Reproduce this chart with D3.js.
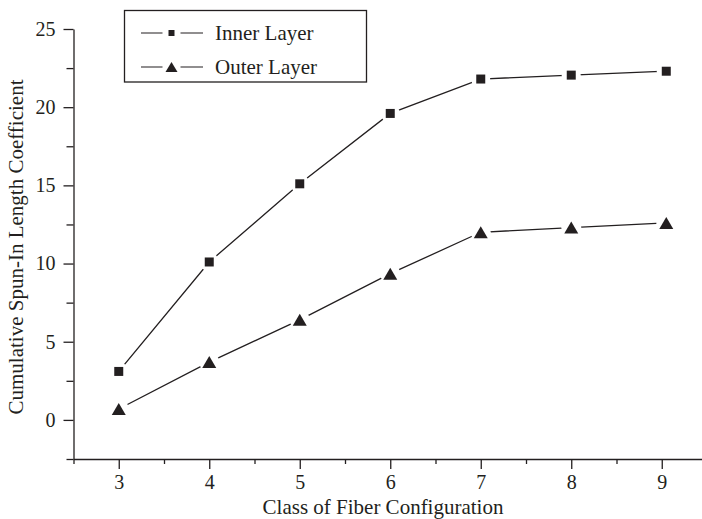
<!DOCTYPE html>
<html>
<head>
<meta charset="utf-8">
<script src="https://cdn.jsdelivr.net/npm/d3@7"></script>
<style>
  html, body { margin: 0; padding: 0; background: #fff; }
  svg { display: block; }
  text { font-family: "Liberation Serif", "Times New Roman", serif; fill: #231f20; }
</style>
</head>
<body>
<svg id="chart" width="702" height="519"></svg>
<script>
// ---- data ----
const classes = [3, 4, 5, 6, 7, 8, 9.05];
const innerLayer = [3.1, 10.1, 15.1, 19.6, 21.8, 22.05, 22.3];
const outerLayer = [0.7, 3.7, 6.4, 9.35, 12.0, 12.3, 12.6];
const seriesNames = ["Inner Layer", "Outer Layer"];
const xMajorTicks = [3, 4, 5, 6, 7, 8, 9];
const xMinorTicks = [2.5, 3.5, 4.5, 5.5, 6.5, 7.5, 8.5, 9.5];
const yMajorTicks = [0, 5, 10, 15, 20, 25];
const yMinorTicks = [-2.5, 2.5, 7.5, 12.5, 17.5, 22.5];
const xTitle = "Class of Fiber Configuration";
const yTitle = "Cumulative Spun-In Length Coefficient";

const ink = "#231f20";
const svg = d3.select("#chart");

const x = d3.scaleLinear().domain([2.5, 9.5]).range([73.5, 707]);
const y = d3.scaleLinear().domain([-2.5, 25]).range([459, 29]);

// ---- axes ----
const xAxisG = svg.append("g").attr("transform", `translate(0,${y(-2.5)})`);
xAxisG.call(d3.axisBottom(x).tickValues(xMajorTicks).tickSize(10).tickSizeOuter(0).tickPadding(6).tickFormat(d3.format("d")));
const xMinorG = svg.append("g").attr("transform", `translate(0,${y(-2.5)})`);
xMinorG.call(d3.axisBottom(x).tickValues(xMinorTicks).tickSize(5).tickSizeOuter(0).tickFormat(""));
xMinorG.select(".domain").remove();

const yAxisG = svg.append("g").attr("transform", `translate(${x(2.5)},0)`);
yAxisG.call(d3.axisLeft(y).tickValues(yMajorTicks).tickSize(10).tickSizeOuter(0).tickPadding(8).tickFormat(d3.format("d")));
const yMinorG = svg.append("g").attr("transform", `translate(${x(2.5)},0)`);
yMinorG.call(d3.axisLeft(y).tickValues(yMinorTicks).tickSize(7).tickSizeOuter(0).tickFormat(""));
yMinorG.select(".domain").remove();

svg.selectAll(".domain, .tick line").attr("stroke", ink).attr("stroke-width", 1.3);
svg.selectAll(".tick text").attr("font-family", "Liberation Serif").attr("font-size", 20).attr("fill", ink);

// ---- axis titles ----
svg.append("text")
  .attr("x", 383).attr("y", 514)
  .attr("text-anchor", "middle")
  .attr("font-size", 21)
  .text(xTitle);
svg.append("text")
  .attr("transform", "translate(23,247) rotate(-90)")
  .attr("text-anchor", "middle")
  .attr("font-size", 21)
  .text(yTitle);

// ---- marker shapes ----
const triangleType = (w, h) => ({
  draw(ctx) {
    ctx.moveTo(0, -h / 2);
    ctx.lineTo(w / 2, h / 2);
    ctx.lineTo(-w / 2, h / 2);
    ctx.closePath();
  }
});
const squareType = (s) => ({
  draw(ctx) { ctx.rect(-s / 2, -s / 2, s, s); }
});

const series = [
  { name: seriesNames[0], values: innerLayer, shape: squareType(9), halo: 9.5,
    legendShape: squareType(6) },
  { name: seriesNames[1], values: outerLayer, shape: triangleType(14, 12), halo: 10,
    legendShape: triangleType(12, 10) }
];

const line = d3.line().x(d => x(d[0])).y(d => y(d[1]));

series.forEach(s => {
  const pts = classes.map((c, i) => [c, s.values[i]]);
  const g = svg.append("g");
  g.append("path").datum(pts)
    .attr("d", line).attr("fill", "none")
    .attr("stroke", ink).attr("stroke-width", 1.3);
  // white halos to separate markers from the lines
  g.selectAll("circle.halo").data(pts).join("circle")
    .attr("class", "halo")
    .attr("cx", d => x(d[0])).attr("cy", d => y(d[1]))
    .attr("r", s.halo).attr("fill", "#fff");
  g.selectAll("path.mark").data(pts).join("path")
    .attr("class", "mark")
    .attr("transform", d => `translate(${x(d[0])},${y(d[1])})`)
    .attr("d", d3.symbol(s.shape)())
    .attr("fill", ink);
});

// ---- legend ----
const legend = svg.append("g");
legend.append("rect")
  .attr("x", 124.5).attr("y", 10.5).attr("width", 242).attr("height", 71.5)
  .attr("fill", "#fff").attr("stroke", ink).attr("stroke-width", 1.3);
const rowY = [33, 67];
series.forEach((s, i) => {
  const cy = rowY[i];
  legend.append("line").attr("x1", 141).attr("x2", 203).attr("y1", cy).attr("y2", cy)
    .attr("stroke", ink).attr("stroke-width", 1.2);
  legend.append("rect").attr("x", 171.5 - 9).attr("y", cy - 7).attr("width", 18).attr("height", 14)
    .attr("fill", "#fff");
  legend.append("path").attr("transform", `translate(171.5,${cy})`)
    .attr("d", d3.symbol(s.legendShape)()).attr("fill", ink);
  legend.append("text").attr("x", 215).attr("y", cy + 7)
    .attr("font-size", 21).text(s.name);
});
</script>
</body>
</html>
